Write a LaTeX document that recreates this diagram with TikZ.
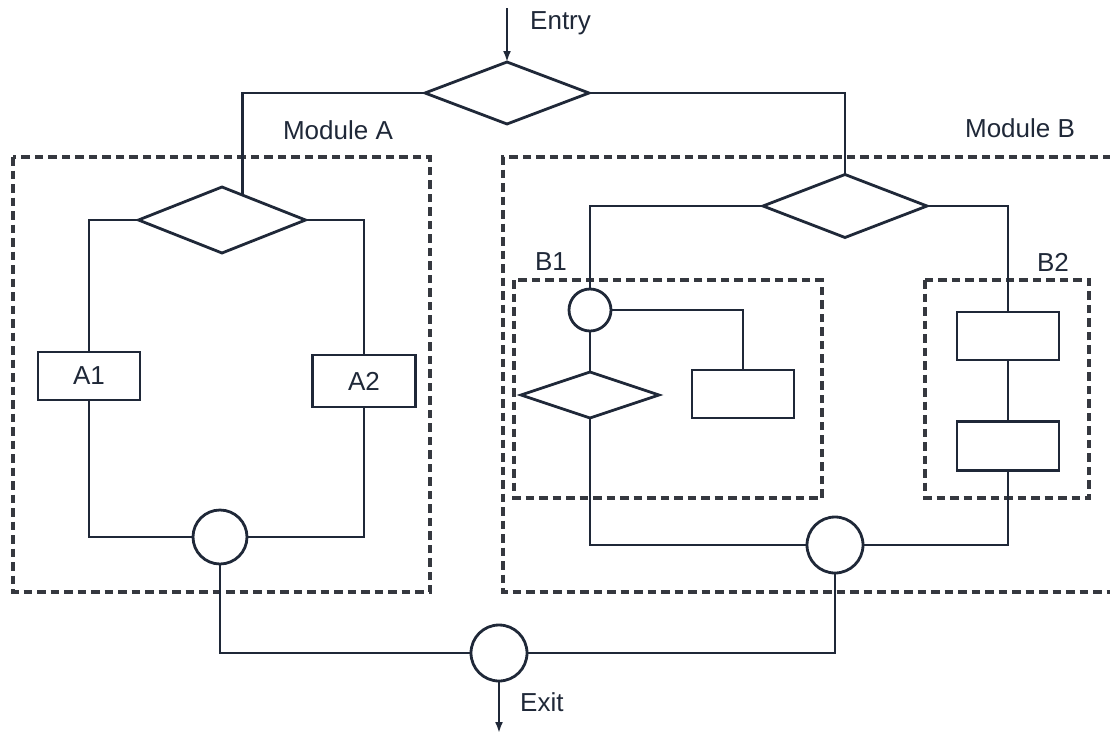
\documentclass[tikz,border=0pt]{standalone}
\usepackage{fontspec}
\setmainfont{Liberation Sans}
\usetikzlibrary{shapes.geometric,arrows.meta,calc}
\definecolor{ink}{HTML}{1F2838}
\definecolor{dashink}{HTML}{35383F}
\tikzset{
  conn/.style={draw=ink, line width=2.8pt},
  arr/.style={conn, -{Latex[length=11pt,width=8pt]}},
  modbox/.style={draw=dashink, line width=3.2pt, dash pattern=on 8.5pt off 5pt},
  dia/.style={diamond, draw=ink, line width=2.8pt, inner sep=0pt, outer sep=0pt},
  blk/.style={rectangle, draw=ink, line width=2.8pt, inner sep=0pt, outer sep=0pt, minimum width=102pt, minimum height=48pt},
  junc/.style={circle, draw=ink, line width=2.8pt, inner sep=0pt, outer sep=0pt},
  lbl/.style={text=ink, font=\fontsize{26}{30}\selectfont, inner sep=0pt}
}
\begin{document}
\begin{tikzpicture}[x=1pt, y=-1pt]
\useasboundingbox[fill=white] (0,0) rectangle (1110,734);
% module boxes
\draw[modbox] (13,157) rectangle (430,592);
\draw[modbox] (1125,157) -- (503,157) -- (503,592) -- (1125,592);
\draw[modbox] (514,280) rectangle (822,498);
\draw[modbox] (925,280) rectangle (1089,498);
% labels
\node[lbl] (labA) at (338,130) {Module A};
\node[lbl] (labB) at (1020,128) {Module B};
\node[lbl] (labB1) at (551,262) {B1};
\node[lbl] (labB2) at (1053,262) {B2};
% nodes
\node[dia, minimum width=164pt, minimum height=62pt] (dT) at (507,93) {};
\node[dia, minimum width=167pt, minimum height=66pt] (dA) at (222,220) {};
\node[blk, minimum width=102pt, text=ink] (A1) at (89,376) {\fontsize{26}{30}\selectfont A1};
\node[blk, minimum width=103pt, minimum height=52pt, text=ink] (A2) at (364,381) {\fontsize{26}{30}\selectfont A2};
\node[junc, minimum size=54pt] (cA) at (220,537) {};
\node[dia, minimum width=164pt, minimum height=63pt] (dB) at (845,206) {};
\node[junc, minimum size=42pt] (c1) at (590,310) {};
\node[dia, minimum width=138pt, minimum height=46pt] (d1) at (590,395) {};
\node[blk] (r1) at (743,394) {};
\node[blk] (B2a) at (1008,336) {};
\node[blk, minimum height=49pt] (B2b) at (1008,446) {};
\node[junc, minimum size=56pt] (cB) at (835,545) {};
\node[junc, minimum size=56pt] (cE) at (499,653) {};
% entry / exit
\coordinate (entryStart) at (507,8);
\node[lbl, anchor=west] (entryLbl) at (530,23) {Entry};
\coordinate (exitEnd) at (499,733);
\node[lbl, anchor=west] (exitLbl) at (520,702) {Exit};
\draw[arr] (entryStart) -- (dT.north);
\draw[arr] (cE.south) -- (exitEnd);
% connectors
\coordinate (pA) at ($(dA.north)!0.25!(dA.east)$);
\draw[conn] (dT.west) -| (pA);
\draw[conn] (dT.east) -| (dB.north);
\draw[conn] (dA.west) -| (A1.north);
\draw[conn] (dA.east) -| (A2.north);
\draw[conn] (A1.south) |- (cA.west);
\draw[conn] (A2.south) |- (cA.east);
\draw[conn] (cA.south) |- (cE.west);
\draw[conn] (cB.south) |- (cE.east);
\draw[conn] (dB.west) -| (c1.north);
\draw[conn] (dB.east) -| (B2a.north);
\draw[conn] (c1.east) -| (r1.north);
\draw[conn] (c1.south) -- (d1.north);
\draw[conn] (d1.south) |- (cB.west);
\draw[conn] (B2a.south) -- (B2b.north);
\draw[conn] (B2b.south) |- (cB.east);
\end{tikzpicture}
\end{document}
